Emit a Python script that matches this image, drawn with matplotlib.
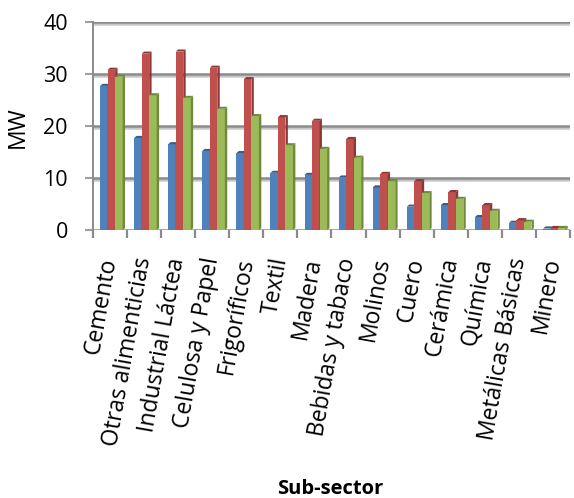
import matplotlib
matplotlib.use("Agg")
import matplotlib.pyplot as plt
import matplotlib.patheffects as pe
from matplotlib.patches import Polygon
import numpy as np

categories = ["Cemento", "Otras alimenticias", "Industrial Láctea", "Celulosa y Papel",
              "Frigoríficos", "Textil", "Madera", "Bebidas y tabaco", "Molinos", "Cuero",
              "Cerámica", "Química", "Metálicas Básicas", "Minero"]
serie_azul = [27.7, 17.7, 16.5, 15.2, 14.8, 11.0, 10.6, 10.1, 8.2, 4.5, 4.8, 2.5, 1.4, 0.3]
serie_roja = [30.8, 33.9, 34.3, 31.2, 29.0, 21.7, 21.0, 17.5, 10.8, 9.4, 7.3, 4.8, 1.9, 0.4]
serie_verde = [29.5, 25.9, 25.4, 23.3, 21.9, 16.3, 15.6, 13.9, 9.4, 7.1, 6.0, 3.7, 1.6, 0.4]
yticks = [0, 10, 20, 30, 40]

face_colors = ["#4F81BD", "#C0504D", "#9BBB59"]
side_colors = ["#385D8A", "#8C3836", "#71893F"]

plt.rcParams['font.family'] = ['Open Sans', 'DejaVu Sans']
fig = plt.figure(figsize=(5.74, 4.98), dpi=100)
ax = fig.add_axes([0.162, 0.538, 0.831, 0.418])

x = np.arange(len(categories))
w = 0.22
dx, dy = 0.07, 0.4
offsets = [-0.29, -0.07, 0.15]
series = [serie_azul, serie_roja, serie_verde]

for gi in range(len(categories)):
    for si, (vals, off) in enumerate(zip(series, offsets)):
        h = vals[gi]
        left = x[gi] + off
        ax.bar(left, h, width=w, align='edge', color=face_colors[si], linewidth=0, zorder=3)
        side = Polygon([(left + w, 0), (left + w + dx, dy), (left + w + dx, h + dy), (left + w, h)],
                       closed=True, facecolor=side_colors[si], edgecolor='none', zorder=3)
        top = Polygon([(left, h), (left + dx, h + dy), (left + w + dx, h + dy), (left + w, h)],
                      closed=True, facecolor=side_colors[si], edgecolor='none', zorder=3)
        ax.add_patch(side)
        ax.add_patch(top)

ax.set_xlim(-0.5, len(categories) - 0.5)
ax.set_ylim(0, 40)
ax.set_yticks(yticks)
ax.set_yticklabels([str(t) for t in yticks], fontsize=15.5)
shadow = [pe.SimpleLineShadow(offset=(0, -1.5), shadow_color="#C8C8C8", alpha=1.0), pe.Normal()]
for t in yticks[1:]:
    ax.axhline(t, color="#8A8A8A", lw=1.8, zorder=1, path_effects=shadow)
ax.axhline(0, color="#8A8A8A", lw=1.8, zorder=2)

ax.set_xticks(x)
ax.set_xticklabels(categories, rotation=80, ha='right', va='center',
                   rotation_mode='anchor', fontsize=16.5)
ax.tick_params(axis='x', length=0, pad=20)
ax.set_xticks(np.arange(-0.5, len(categories) + 0.5, 1), minor=True)
ax.tick_params(axis='x', which='minor', length=6, width=1.6, color="#8A8A8A", direction='out')
ax.tick_params(axis='y', length=6, width=1.2, color="#8A8A8A", direction='out', pad=12)

for s in ['top', 'right', 'bottom']:
    ax.spines[s].set_visible(False)
ax.spines['left'].set_color("#8A8A8A")
ax.spines['left'].set_linewidth(1.4)

fig.text(18 / 574, 1 - 127 / 498, "MW", rotation=90, ha='center', va='center', fontsize=16.5)
fig.text(330 / 574, 1 - 489 / 498, "Sub-sector", ha='center', va='center', fontsize=14.5, fontweight='bold')

fig.savefig("out.png", dpi=100)
